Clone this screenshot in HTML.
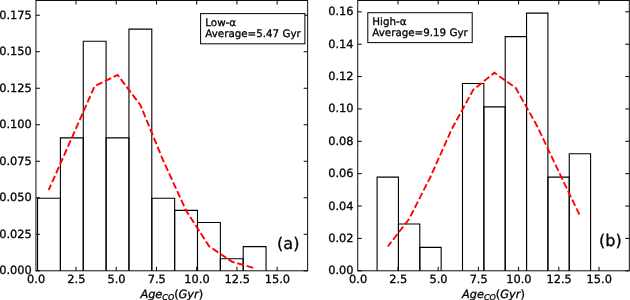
<!DOCTYPE html><html><head><meta charset="utf-8"><style>html,body{margin:0;padding:0;background:#fff;overflow:hidden}svg{display:block}text{font-family:"DejaVu Sans","Liberation Sans",sans-serif;fill:#000;stroke:#000;stroke-width:0.3px;text-rendering:geometricPrecision}</style></head><body>
<svg width="630" height="300" viewBox="0 0 630 300">
<rect width="630" height="300" fill="#fff"/>
<path d="M37.55 270.80V198.31H60.40V270.80" fill="none" stroke="#000" stroke-width="1.1"/>
<path d="M60.40 270.80V137.90H83.25V270.80" fill="none" stroke="#000" stroke-width="1.1"/>
<path d="M83.25 270.80V41.24H106.10V270.80" fill="none" stroke="#000" stroke-width="1.1"/>
<path d="M106.10 270.80V137.90H128.95V270.80" fill="none" stroke="#000" stroke-width="1.1"/>
<path d="M128.95 270.80V29.16H151.80V270.80" fill="none" stroke="#000" stroke-width="1.1"/>
<path d="M151.80 270.80V198.31H174.65V270.80" fill="none" stroke="#000" stroke-width="1.1"/>
<path d="M174.65 270.80V210.39H197.50V270.80" fill="none" stroke="#000" stroke-width="1.1"/>
<path d="M197.50 270.80V222.47H220.35V270.80" fill="none" stroke="#000" stroke-width="1.1"/>
<path d="M220.35 270.80V258.72H243.20V270.80" fill="none" stroke="#000" stroke-width="1.1"/>
<path d="M243.20 270.80V246.64H266.05V270.80" fill="none" stroke="#000" stroke-width="1.1"/>
<polyline points="48.67,190.00 71.60,138.40 94.55,86.30 117.50,74.90 140.40,105.00 163.40,161.00 186.30,211.00 209.30,246.50 232.20,261.80 255.10,268.40" fill="none" stroke="#f00" stroke-width="1.9" stroke-dasharray="6.9,2.8" stroke-dashoffset="1.1"/>
<rect x="35.95" y="0.5" width="271.70" height="270.30" fill="none" stroke="#000" stroke-width="0.95"/>
<path d="M76.03 270.80v-4.0M76.03 0.50v4.0M116.25 270.80v-4.0M116.25 0.50v4.0M156.47 270.80v-4.0M156.47 0.50v4.0M196.70 270.80v-4.0M196.70 0.50v4.0M236.93 270.80v-4.0M236.93 0.50v4.0M277.15 270.80v-4.0M277.15 0.50v4.0M35.95 270.80h4.0M307.65 270.80h-4.0M35.95 234.29h4.0M307.65 234.29h-4.0M35.95 197.78h4.0M307.65 197.78h-4.0M35.95 161.27h4.0M307.65 161.27h-4.0M35.95 124.76h4.0M307.65 124.76h-4.0M35.95 88.25h4.0M307.65 88.25h-4.0M35.95 51.74h4.0M307.65 51.74h-4.0M35.95 15.23h4.0M307.65 15.23h-4.0" stroke="#000" stroke-width="1" fill="none"/>
<text x="36.10" y="283.4" font-size="11.4" text-anchor="middle">0.0</text>
<text x="76.33" y="283.4" font-size="11.4" text-anchor="middle">2.5</text>
<text x="116.55" y="283.4" font-size="11.4" text-anchor="middle">5.0</text>
<text x="156.78" y="283.4" font-size="11.4" text-anchor="middle">7.5</text>
<text x="197.00" y="283.4" font-size="11.4" text-anchor="middle">10.0</text>
<text x="237.23" y="283.4" font-size="11.4" text-anchor="middle">12.5</text>
<text x="277.45" y="283.4" font-size="11.4" text-anchor="middle">15.0</text>
<text x="31.80" y="274.35" font-size="11.4" text-anchor="end">0.000</text>
<text x="31.80" y="237.84" font-size="11.4" text-anchor="end">0.025</text>
<text x="31.80" y="201.33" font-size="11.4" text-anchor="end">0.050</text>
<text x="31.80" y="164.82" font-size="11.4" text-anchor="end">0.075</text>
<text x="31.80" y="128.31" font-size="11.4" text-anchor="end">0.100</text>
<text x="31.80" y="91.80" font-size="11.4" text-anchor="end">0.125</text>
<text x="31.80" y="55.29" font-size="11.4" text-anchor="end">0.150</text>
<text x="31.80" y="18.78" font-size="11.4" text-anchor="end">0.175</text>
<rect x="200.6" y="13.6" width="104.3" height="30.2" fill="#fff" stroke="#000" stroke-width="1"/>
<text x="205.3" y="25.9" font-size="10.3">Low-α</text>
<text x="205.3" y="37.4" font-size="10.3">Average=5.47 Gyr</text>
<text x="277.0" y="248.6" font-size="16.1">(a)</text>
<text x="171.80" y="297.6" font-size="11.35" text-anchor="middle"><tspan font-style="italic">Age</tspan><tspan font-style="italic" font-size="7.94" dy="2.1">CO</tspan><tspan dy="-2.1">(</tspan><tspan font-style="italic">Gyr</tspan><tspan>)</tspan></text>
<path d="M377.10 270.80V177.12H398.45V270.80" fill="none" stroke="#000" stroke-width="1.1"/>
<path d="M398.45 270.80V223.96H419.80V270.80" fill="none" stroke="#000" stroke-width="1.1"/>
<path d="M419.80 270.80V247.38H441.15V270.80" fill="none" stroke="#000" stroke-width="1.1"/>
<path d="M462.50 270.80V83.43H483.85V270.80" fill="none" stroke="#000" stroke-width="1.1"/>
<path d="M483.85 270.80V106.85H505.20V270.80" fill="none" stroke="#000" stroke-width="1.1"/>
<path d="M505.20 270.80V36.59H526.55V270.80" fill="none" stroke="#000" stroke-width="1.1"/>
<path d="M526.55 270.80V13.17H547.90V270.80" fill="none" stroke="#000" stroke-width="1.1"/>
<path d="M547.90 270.80V177.12H569.25V270.80" fill="none" stroke="#000" stroke-width="1.1"/>
<path d="M569.25 270.80V153.69H590.60V270.80" fill="none" stroke="#000" stroke-width="1.1"/>
<polyline points="387.80,246.50 409.10,219.00 430.40,177.00 451.80,129.00 473.10,90.00 494.40,72.70 515.80,88.00 537.10,126.00 558.40,171.00 579.80,215.50" fill="none" stroke="#f00" stroke-width="1.85" stroke-dasharray="6.9,2.8" stroke-dashoffset="1.1"/>
<rect x="357.75" y="0.5" width="271.55" height="270.30" fill="none" stroke="#000" stroke-width="0.95"/>
<path d="M398.00 270.80v-4.0M398.00 0.50v4.0M438.20 270.80v-4.0M438.20 0.50v4.0M478.40 270.80v-4.0M478.40 0.50v4.0M518.60 270.80v-4.0M518.60 0.50v4.0M558.80 270.80v-4.0M558.80 0.50v4.0M599.00 270.80v-4.0M599.00 0.50v4.0M357.75 270.80h4.0M629.30 270.80h-4.0M357.75 238.43h4.0M629.30 238.43h-4.0M357.75 206.06h4.0M629.30 206.06h-4.0M357.75 173.68h4.0M629.30 173.68h-4.0M357.75 141.31h4.0M629.30 141.31h-4.0M357.75 108.94h4.0M629.30 108.94h-4.0M357.75 76.57h4.0M629.30 76.57h-4.0M357.75 44.20h4.0M629.30 44.20h-4.0M357.75 11.82h4.0M629.30 11.82h-4.0" stroke="#000" stroke-width="1" fill="none"/>
<text x="358.10" y="283.4" font-size="11.4" text-anchor="middle">0.0</text>
<text x="398.30" y="283.4" font-size="11.4" text-anchor="middle">2.5</text>
<text x="438.50" y="283.4" font-size="11.4" text-anchor="middle">5.0</text>
<text x="478.70" y="283.4" font-size="11.4" text-anchor="middle">7.5</text>
<text x="518.90" y="283.4" font-size="11.4" text-anchor="middle">10.0</text>
<text x="559.10" y="283.4" font-size="11.4" text-anchor="middle">12.5</text>
<text x="599.30" y="283.4" font-size="11.4" text-anchor="middle">15.0</text>
<text x="353.60" y="274.35" font-size="11.4" text-anchor="end">0.00</text>
<text x="353.60" y="241.98" font-size="11.4" text-anchor="end">0.02</text>
<text x="353.60" y="209.61" font-size="11.4" text-anchor="end">0.04</text>
<text x="353.60" y="177.23" font-size="11.4" text-anchor="end">0.06</text>
<text x="353.60" y="144.86" font-size="11.4" text-anchor="end">0.08</text>
<text x="353.60" y="112.49" font-size="11.4" text-anchor="end">0.10</text>
<text x="353.60" y="80.12" font-size="11.4" text-anchor="end">0.12</text>
<text x="353.60" y="47.75" font-size="11.4" text-anchor="end">0.14</text>
<text x="353.60" y="15.37" font-size="11.4" text-anchor="end">0.16</text>
<rect x="367.8" y="12.7" width="104.4" height="29.9" fill="#fff" stroke="#000" stroke-width="1"/>
<text x="372.3" y="24.9" font-size="10.3">High-α</text>
<text x="372.3" y="36.4" font-size="10.3">Average=9.19 Gyr</text>
<text x="598.9" y="246.2" font-size="16.1">(b)</text>
<text x="493.52" y="297.6" font-size="11.35" text-anchor="middle"><tspan font-style="italic">Age</tspan><tspan font-style="italic" font-size="7.94" dy="2.1">CO</tspan><tspan dy="-2.1">(</tspan><tspan font-style="italic">Gyr</tspan><tspan>)</tspan></text>
</svg></body></html>
